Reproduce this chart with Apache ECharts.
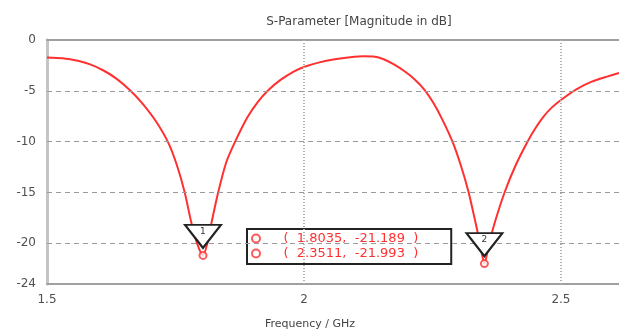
<!DOCTYPE html>
<html>
<head>
<meta charset="utf-8">
<script src="https://cdn.jsdelivr.net/npm/echarts@6/dist/echarts.min.js"></script>
<style>html,body{margin:0;padding:0;background:#fff}#c{width:619px;height:332px}</style>
</head>
<body>
<div id="c"></div>
<script>
var freq = [1.500,1.530,1.560,1.584,1.610,1.635,1.661,1.685,1.710,1.735,1.752,1.768,1.781,1.792,1.8035,1.812,1.820,1.833,1.849,1.867,1.890,1.910,1.931,1.955,1.980,2.000,2.030,2.060,2.090,2.115,2.135,2.154,2.175,2.195,2.215,2.235,2.252,2.270,2.289,2.305,2.320,2.334,2.343,2.3511,2.360,2.371,2.391,2.413,2.435,2.450,2.465,2.482,2.504,2.530,2.560,2.590,2.613];
var s11 = [-1.72,-1.80,-2.05,-2.40,-3.0,-3.8,-4.92,-6.2,-7.85,-10.0,-12.2,-15.0,-18.0,-20.0,-21.189,-20.0,-18.0,-15.0,-12.0,-9.9,-7.6,-6.1,-4.92,-3.9,-3.1,-2.65,-2.2,-1.9,-1.70,-1.6,-1.62,-1.87,-2.4,-3.05,-3.85,-4.92,-6.2,-7.9,-10.0,-12.3,-14.9,-18.0,-20.1,-21.993,-20.1,-18.0,-14.9,-12.2,-10.0,-8.7,-7.6,-6.65,-5.75,-4.85,-4.1,-3.6,-3.25];
var markerFreq = [1.8035, 2.3511];
var markerVal = [-21.189, -21.993];
var markerNames = ['1', '2'];
var xTicks = [1.5, 2, 2.5];
var yTicks = [0, -5, -10, -15, -20, -24];
var xGrid = [2, 2.5];
var yGrid = [-5, -10, -15, -20];

var font = 'DejaVu Sans';
var red = '#ff3030';
var chart = echarts.init(document.getElementById('c'), null, {renderer: 'canvas'});

var curve = freq.map(function (f, i) { return [f, s11[i]]; });
var gridLines = xGrid.map(function (v) {
  return {xAxis: v, lineStyle: {type: [1, 2], width: 2, color: '#b0b0b0'}};
}).concat(yGrid.map(function (v) {
  return {yAxis: v, lineStyle: {type: [5, 4], width: 1, color: '#9a9a9a'}};
}));

var markerSeries = markerFreq.map(function (f, i) {
  var label = '(  ' + f.toFixed(4) + ',  ' + markerVal[i].toFixed(3) + '  )';
  return {
    name: label,
    type: 'scatter',
    data: [[f, markerVal[i]]],
    symbol: 'emptyCircle',
    symbolSize: 7,
    itemStyle: {color: red, borderColor: red, borderWidth: 1.5},
    z: 5,
    markPoint: {
      silent: true,
      symbol: 'path://M0,0 L36,0 L18,23 Z',
      symbolSize: [36, 23],
      symbolOffset: [0, -19],
      itemStyle: {color: '#fff', borderColor: '#222', borderWidth: 2},
      label: {show: true, formatter: markerNames[i], color: '#334', fontSize: 9, fontFamily: font, offset: [0, -5]},
      data: [{coord: [f, markerVal[i]]}]
    }
  };
});

chart.setOption({
  animation: false,
  backgroundColor: '#fff',
  title: {
    text: 'S-Parameter [Magnitude in dB]',
    left: 354, top: 11, textAlign: 'center',
    textStyle: {fontSize: 12, fontWeight: 'normal', color: '#444', fontFamily: font}
  },
  legend: {
    orient: 'vertical',
    left: 247, top: 229,
    data: markerSeries.map(function (s) { return s.name; }),
    icon: 'emptyCircle',
    itemWidth: 9, itemHeight: 8,
    itemGap: 2,
    padding: [3, 33, 4, 4],
    borderColor: '#222', borderWidth: 2,
    backgroundColor: '#fff',
    selectedMode: false,
    textStyle: {color: red, fontSize: 13, fontFamily: font, padding: [0, 0, 0, 18]}
  },
  grid: {left: 47, right: 0, top: 40, bottom: 48, containLabel: false, outerBoundsMode: 'none'},
  xAxis: [{
    type: 'value', min: 1.5, max: 2.613, interval: 0.5,
    name: 'Frequency / GHz', nameLocation: 'middle', nameGap: 35,
    nameTextStyle: {fontSize: 11, color: '#444', fontFamily: font, padding: [0, 46, 0, 0]},
    axisLine: {show: true, onZero: false, lineStyle: {color: '#a0a0a0', width: 2}},
    axisTick: {show: false},
    splitLine: {show: false},
    axisLabel: {customValues: xTicks, margin: 10, fontSize: 12, color: '#505050', fontFamily: font}
  }, {
    type: 'value', min: 1.5, max: 2.613, position: 'top',
    axisLine: {show: true, onZero: false, lineStyle: {color: '#a0a0a0', width: 2}},
    axisTick: {show: false}, axisLabel: {show: false}, splitLine: {show: false}
  }],
  yAxis: {
    type: 'value', min: -24, max: 0, interval: 1,
    axisLine: {show: true, onZero: false, lineStyle: {color: '#c4c4c4', width: 3}},
    axisTick: {show: false},
    splitLine: {show: false},
    axisLabel: {customValues: yTicks, margin: 11, fontSize: 12, color: '#505050', fontFamily: font}
  },
  series: [{
    name: 'S11',
    type: 'line',
    data: curve,
    smooth: 0.25,
    showSymbol: false,
    lineStyle: {color: red, width: 2},
    z: 3,
    markLine: {
      silent: true, symbol: 'none', label: {show: false},
      animation: false,
      data: gridLines
    }
  }].concat(markerSeries)
});
</script>
</body>
</html>
